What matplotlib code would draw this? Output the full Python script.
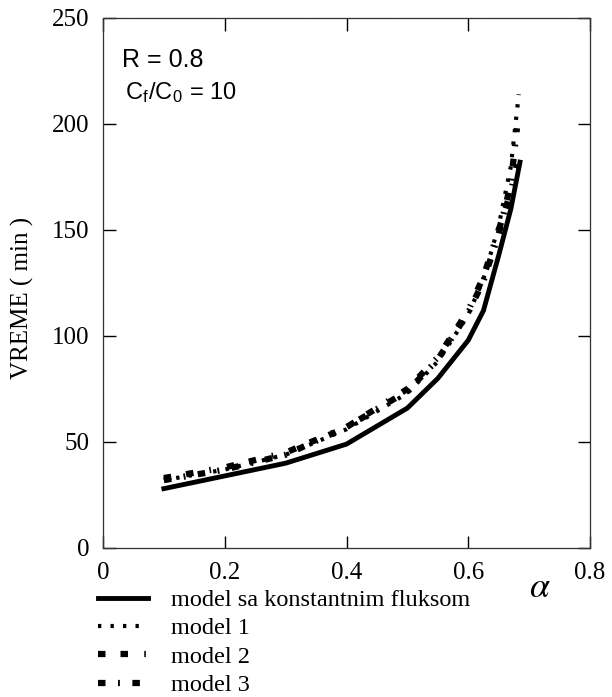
import matplotlib
matplotlib.use("Agg")
import matplotlib.pyplot as plt

# values
alpha_c = [0.1, 0.2, 0.3, 0.4, 0.5, 0.55, 0.6, 0.625, 0.65, 0.67, 0.685]
vreme_c = [28, 34, 40, 49, 66, 80, 98, 112, 138, 160, 182]

alpha_1 = [0.1, 0.2, 0.3, 0.4, 0.5, 0.55, 0.6, 0.625, 0.65, 0.67, 0.683]
vreme_1 = [32, 37, 44, 56, 73, 88, 110, 127, 152, 180, 214]

alpha_2 = [0.1, 0.2, 0.3, 0.4, 0.5, 0.55, 0.6, 0.625, 0.65, 0.67, 0.68]
vreme_2 = [33, 38, 45, 57, 75, 90, 112, 128, 150, 168, 181]

alpha_3 = [0.1, 0.2, 0.3, 0.4, 0.5, 0.55, 0.6, 0.625, 0.65, 0.67, 0.68]
vreme_3 = [32, 37, 44, 57, 74, 89, 111, 126, 148, 172, 198]

labels = ["model sa konstantnim fluksom", "model 1", "model 2", "model 3"]
xticks = [0, 0.2, 0.4, 0.6, 0.8]
yticks = [0, 50, 100, 150, 200, 250]

serif = "Liberation Serif"
sans = "Liberation Sans"
plt.rcParams["mathtext.fontset"] = "stix"


def main():
    fig = plt.figure(figsize=(6.12, 6.97), dpi=100)
    ax = fig.add_axes([103 / 612, 1 - 548 / 697, 487 / 612, 530 / 697])

    ax.plot(alpha_c, vreme_c, color="black", lw=3.5, label=labels[0])
    ax.plot(alpha_1, vreme_1, color="black", lw=3, linestyle=(0, (0.8, 2.2)), label=labels[1])
    ax.plot(alpha_2, vreme_2, color="black", lw=4.5,
            linestyle=(0, (1.2, 2.4, 1.2, 2.6, 0.25, 2.6)), label=labels[2])
    ax.plot(alpha_3, vreme_3, color="black", lw=4.5,
            linestyle=(0, (1.2, 2.0, 0.3, 2.0)), label=labels[3])

    ax.set_xlim(0, 0.8)
    ax.set_ylim(0, 250)
    ax.set_xticks(xticks)
    ax.set_yticks(yticks)
    ax.set_xticklabels([f"{t:g}" for t in xticks])
    ax.tick_params(direction="in", length=9, width=1, top=True, right=True,
                   labelsize=18, pad=10)
    for lab in ax.get_xticklabels() + ax.get_yticklabels():
        lab.set_family(serif)
    for sp in ax.spines.values():
        sp.set_linestyle((0, (1.5, 0.7)))
        sp.set_linewidth(0.9)
        sp.set_color("0.2")

    ax.text(0.04, 0.92, "R = 0.8", transform=ax.transAxes, fontsize=18,
            family=sans, va="center")
    ax.text(0.045, 0.858, r"C$_\mathregular{f}$/C$_\mathregular{0}$ = 10",
            transform=ax.transAxes, fontsize=17, family=sans, va="center")

    fig.text(22 / 612, 1 - 298 / 697, "VREME ( min )", rotation=90,
             fontsize=18, family=serif, ha="center", va="center")
    fig.text(540 / 612, 1 - 587 / 697, r"$\alpha$", fontsize=26,
             ha="center", va="center")

    fig.legend(loc="upper left", bbox_to_anchor=(98 / 612, 1 - 589 / 697),
               frameon=False, prop={"family": serif, "size": 17.5},
               handlelength=2.05, handletextpad=0.95, labelspacing=0.26,
               borderpad=0, borderaxespad=0)

    fig.savefig("out.png", dpi=100)


if __name__ == "__main__":
    main()
